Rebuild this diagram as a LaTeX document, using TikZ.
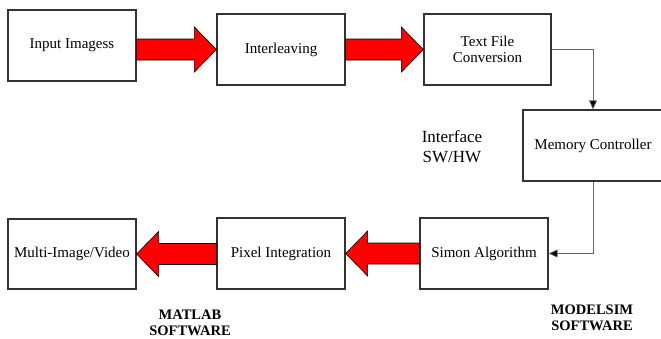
\documentclass[tikz,border=0pt]{standalone}
\usepackage{fontspec}
\setmainfont{Liberation Serif}
\usetikzlibrary{calc,arrows.meta}
\tikzset{
  blk/.style={draw=black!80, line width=1.2pt, fill=white, inner sep=2pt, align=center,
    font=\fontsize{15}{16.5}\selectfont},
  fat/.style={draw=black, line width=0.6pt, fill=red, line join=miter,
    to path={let \p1=(\tikztostart), \p2=(\tikztotarget), \n1={sign(\x2-\x1)} in
      (\x1,\y2+10.5pt) -- (\x2-\n1*22pt,\y2+10.5pt) -- (\x2-\n1*22pt,\y2+22.5pt) -- (\x2,\y2)
      -- (\x2-\n1*22pt,\y2-22.5pt) -- (\x2-\n1*22pt,\y2-10.5pt) -- (\x1,\y2-10.5pt) -- cycle}},
  thinline/.style={draw=black!60, line width=0.8pt, -{Triangle[length=9pt,width=8pt,fill=black]}},
  lbl/.style={align=center, inner sep=0pt},
  soft/.style={lbl, font=\fontsize{14.5}{16}\selectfont\bfseries}
}
\begin{document}
\begin{tikzpicture}[x=1pt,y=-1pt]
\useasboundingbox (0,0) rectangle (661,338);
\clip (0,0) rectangle (661,338);
\fill[white] (0,0) rectangle (661,338);

\node[blk, minimum width=128pt, minimum height=71pt] (b1) at (72,45.5) {Input Imagess};
\node[blk, minimum width=128pt, minimum height=71pt] (b2) at (281,49.5) {Interleaving};
\node[blk, minimum width=127pt, minimum height=71pt] (b3) at (487.5,49.5) {Text File\\Conversion};
\node[blk, minimum width=140pt, minimum height=71pt] (b4) at (593,145.5) {Memory Controller};
\node[blk, minimum width=128pt, minimum height=71pt] (b5) at (484,253.5) {Simon Algorithm};
\node[blk, minimum width=128pt, minimum height=71pt] (b6) at (281,253.5) {Pixel Integration};
\node[blk, minimum width=128pt, minimum height=70pt] (b7) at (72,254) {Multi-Image/Video};

\draw[fat] (b1.east |- b2.west) to (b2.west);
\draw[fat] (b2.east) to (b3.west);
\draw[fat] (b5.west) to (b6.east);
\draw[fat] (b6.west) to (b7.east);

\draw[thinline] (b3.east) -| (b4.north);
\draw[thinline] (b4.south) |- (b5.east);

\node[lbl, font=\fontsize{17}{20}\selectfont] (iface) at (452,147) {Interface\\SW/HW};
\node[soft] (matlab) at (190,323) {MATLAB\\SOFTWARE};
\node[soft] (modelsim) at (592,318) {MODELSIM\\SOFTWARE};
\end{tikzpicture}
\end{document}
